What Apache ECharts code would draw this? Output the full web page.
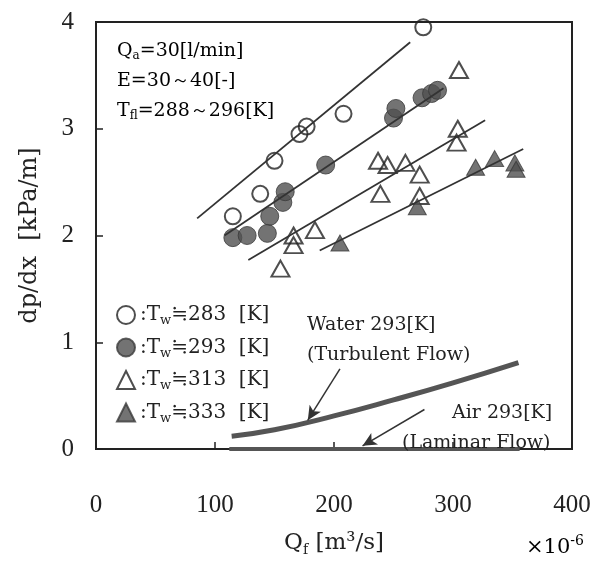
<!DOCTYPE html>
<html>
<head>
<meta charset="utf-8">
<script src="https://cdn.jsdelivr.net/npm/echarts@6/dist/echarts.min.js"></script>
<style>
  html, body { margin: 0; padding: 0; background: #fff; }
  #chart { width: 603px; height: 562px; }
</style>
</head>
<body>
<div id="chart"></div>
<script>
// Qf [x10^-6 m3/s] vs dp/dx [kPa/m]
const xTicks = [0, 100, 200, 300, 400];
const yTicks = [0, 1, 2, 3, 4];

const tw283 = [[115, 2.18], [138, 2.39], [150, 2.70], [171, 2.95], [177, 3.02], [208, 3.14], [275, 3.95]];
const tw293 = [[115, 1.98], [127, 2.00], [144, 2.02], [146, 2.18], [157, 2.31], [159, 2.41], [193, 2.66],
  [250, 3.10], [252, 3.19], [274, 3.29], [282, 3.33], [287, 3.36]];
const tw313 = [[155, 1.69], [166, 1.91], [166, 2.00], [184, 2.05], [237, 2.70], [245, 2.66], [260, 2.68],
  [272, 2.57], [239, 2.39], [272, 2.37], [303, 2.87], [304, 3.00], [305, 3.55]];
const tw333 = [[205, 1.93], [270, 2.27], [319, 2.64], [335, 2.72], [352, 2.68], [353, 2.62]];

// fitted lines
const fit283 = [[85, 2.16], [264, 3.81]];
const fit293 = [[108, 2.00], [292, 3.38]];
const fit313 = [[128, 1.77], [327, 3.08]];
const fit333 = [[188, 1.86], [359, 2.81]];

const water = [[114, 0.12], [150, 0.18], [200, 0.31], [250, 0.46], [300, 0.62], [355, 0.81]];
const air = [[112, 0], [356, 0]];

const waterArrow = [[205, 0.75], [178, 0.27]];
const airArrow = [[276, 0.37], [224, 0.03]];

const legendTemps = { 'Tw283': '283', 'Tw293': '293', 'Tw313': '313', 'Tw333': '333' };

const serif = '"DejaVu Serif", "Liberation Serif", serif';
const tickFont = '"Liberation Serif", serif';
const ink = '#222';
const fillGray = '#505050';

let myChart = echarts.init(document.getElementById('chart'));

function fitLine(data) {
  return {
    type: 'line', data: data, symbol: 'none', silent: true, z: 3,
    lineStyle: { color: '#333', width: 1.8 }
  };
}

function label(text, left, top) {
  return {
    type: 'text', left: left, top: top, z: 10,
    style: { text: text, fontFamily: serif, fontSize: 19, fill: ink }
  };
}

myChart.setOption({
  backgroundColor: '#fff',
  animation: false,
  grid: {
    left: 96, right: 31, top: 22, bottom: 99,
    show: true, borderColor: ink, borderWidth: 2
  },
  legend: {
    orient: 'vertical',
    left: 111, top: 300,
    itemWidth: 18, itemHeight: 18, itemGap: 10,
    data: ['Tw283', 'Tw293', 'Tw313', 'Tw333'],
    formatter: function (name) {
      return '{a|:T}{s|w}{a|≒' + legendTemps[name] + '  [K]}';
    },
    textStyle: {
      color: ink,
      rich: {
        a: { fontFamily: serif, fontSize: 20, color: ink },
        s: { fontFamily: serif, fontSize: 13, color: ink, padding: [12, 0, 0, 0] }
      }
    }
  },
  xAxis: {
    type: 'value', min: xTicks[0], max: xTicks[xTicks.length - 1], interval: 100,
    name: 'Q{s|f} [m³/s]', nameLocation: 'middle', nameGap: 80,
    nameTextStyle: {
      fontFamily: serif, fontSize: 23, color: ink,
      rich: { s: { fontFamily: serif, fontSize: 14, color: ink, padding: [14, 0, 0, 0] } }
    },
    axisLine: { show: true, lineStyle: { color: ink, width: 2 } },
    axisTick: { show: true, inside: true, length: 7, lineStyle: { color: ink, width: 1.5 } },
    axisLabel: { fontFamily: tickFont, fontSize: 25, color: ink, margin: 44 },
    splitLine: { show: false }
  },
  yAxis: {
    type: 'value', min: yTicks[0], max: yTicks[yTicks.length - 1], interval: 1,
    name: 'dp/dx  [kPa/m]', nameLocation: 'middle', nameGap: 54,
    nameTextStyle: { fontFamily: serif, fontSize: 24, color: ink },
    axisLine: { show: true, lineStyle: { color: ink, width: 2 } },
    axisTick: { show: true, inside: true, length: 7, lineStyle: { color: ink, width: 1.5 } },
    axisLabel: { fontFamily: tickFont, fontSize: 25, color: ink, margin: 22 },
    splitLine: { show: false }
  },
  graphic: [
    {
      type: 'text', left: 117, top: 40, z: 10,
      style: {
        text: '{a|Q}{s|a}{a|=30[l/min]}\n{a|E=30～40[-]}\n{a|T}{s|fl}{a|=288～296[K]}',
        rich: {
          a: { fontFamily: serif, fontSize: 19, color: ink, lineHeight: 30 },
          s: { fontFamily: serif, fontSize: 12, color: ink, lineHeight: 30, padding: [10, 0, 0, 0] }
        }
      }
    },
    label('Water 293[K]', 307, 316),
    label('(Turbulent Flow)', 307, 346),
    label('Air 293[K]', 452, 404),
    label('(Laminar Flow)', 402, 434),
    {
      type: 'text', left: 526, top: 534, z: 10,
      style: {
        text: '{a|×10}{p|-6}',
        rich: {
          a: { fontFamily: serif, fontSize: 21, color: ink },
          p: { fontFamily: serif, fontSize: 14, color: ink, padding: [0, 0, 14, 0] }
        }
      }
    }
  ],
  series: [
    fitLine(fit283), fitLine(fit293), fitLine(fit313), fitLine(fit333),
    {
      name: 'Tw283', type: 'scatter', data: tw283, symbol: 'circle', symbolSize: 16, z: 2,
      itemStyle: { color: 'rgba(255,255,255,0)', borderColor: ink, borderWidth: 2 }
    },
    {
      name: 'Tw293', type: 'scatter', data: tw293, symbol: 'circle', symbolSize: 18, z: 2,
      itemStyle: { color: fillGray, borderColor: '#3a3a3a', borderWidth: 1 }
    },
    {
      name: 'Tw313', type: 'scatter', data: tw313, symbol: 'triangle', symbolSize: [18, 16], z: 2,
      itemStyle: { color: 'rgba(255,255,255,0)', borderColor: ink, borderWidth: 2 }
    },
    {
      name: 'Tw333', type: 'scatter', data: tw333, symbol: 'triangle', symbolSize: [18, 16], z: 2,
      itemStyle: { color: fillGray, borderColor: '#3a3a3a', borderWidth: 1 }
    },
    {
      type: 'line', data: water, smooth: true, symbol: 'none', silent: true, z: 3,
      lineStyle: { color: '#555', width: 5 },
      markLine: {
        silent: true, symbol: ['none', 'arrow'], symbolSize: [10, 14],
        label: { show: false },
        lineStyle: { color: '#333', width: 1.5, type: 'solid' },
        data: [
          [{ coord: waterArrow[0] }, { coord: waterArrow[1] }],
          [{ coord: airArrow[0] }, { coord: airArrow[1] }]
        ]
      }
    },
    {
      type: 'line', data: air, symbol: 'none', silent: true, z: 3,
      lineStyle: { color: '#555', width: 4 }
    }
  ]
});

window.addEventListener('resize', function () {
  myChart.resize();
});
</script>
</body>
</html>
